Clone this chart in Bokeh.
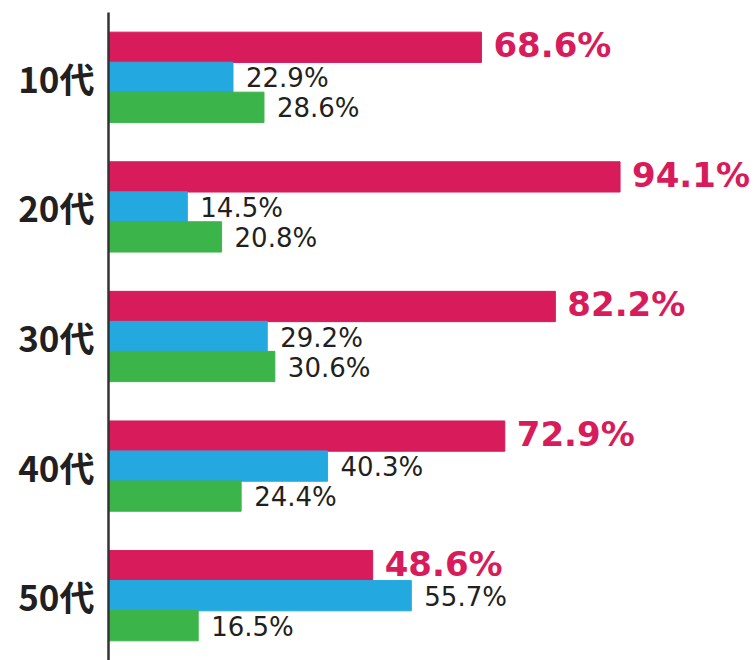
from bokeh.plotting import figure
from bokeh.models import ColumnDataSource, FactorRange, Range1d
from bokeh.transform import dodge
from bokeh.core.properties import value
from bokeh.embed import file_html
from bokeh.resources import INLINE

categories = ["10代", "20代", "30代", "40代", "50代"]
red_vals = [68.6, 94.1, 82.2, 72.9, 48.6]
blue_vals = [22.9, 14.5, 29.2, 40.3, 55.7]
green_vals = [28.6, 20.8, 30.6, 24.4, 16.5]

RED = "#d81b5a"
BLUE = "#24a8e0"
GREEN = "#3bb54a"
DARK = "#231f20"

src = ColumnDataSource(dict(
    cat=categories,
    red=red_vals, blue=blue_vals, green=green_vals,
    red_lbl=[f"{v:.1f}%" for v in red_vals],
    blue_lbl=[f"{v:.1f}%" for v in blue_vals],
    green_lbl=[f"{v:.1f}%" for v in green_vals],
))

p = figure(width=756, height=660, output_backend="svg", toolbar_location=None,
           y_range=FactorRange(*reversed(categories)),
           x_range=Range1d(0, 119.2),
           min_border_top=12, min_border_bottom=0, min_border_right=0,
           min_border_left=108)

bh = 0.2315
p.hbar(y=dodge("cat", bh, range=p.y_range), right="red", left=0, height=bh + 0.002,
       color=RED, source=src)
p.hbar(y=dodge("cat", 0, range=p.y_range), right="blue", left=0, height=bh + 0.002,
       color=BLUE, source=src)
p.hbar(y=dodge("cat", -bh, range=p.y_range), right="green", left=0, height=bh + 0.002,
       color=GREEN, source=src)

p.text(x="red", y=dodge("cat", bh, range=p.y_range), text="red_lbl", source=src,
       x_offset=12, y_offset=-2, text_baseline="middle", text_align="left",
       text_font=value("DejaVu Sans"), text_font_style="bold",
       text_font_size="34px", text_color=RED)
p.text(x="blue", y=dodge("cat", 0, range=p.y_range), text="blue_lbl", source=src,
       x_offset=13, y_offset=1, text_baseline="middle", text_align="left",
       text_font=value("DejaVu Sans"),
       text_font_size="26px", text_color=DARK)
p.text(x="green", y=dodge("cat", -bh, range=p.y_range), text="green_lbl", source=src,
       x_offset=13, y_offset=1, text_baseline="middle", text_align="left",
       text_font=value("DejaVu Sans"),
       text_font_size="26px", text_color=DARK)

p.xaxis.visible = False
p.xgrid.visible = False
p.ygrid.visible = False
p.outline_line_color = None
yax = p.yaxis[0]
yax.axis_line_color = "#333333"
yax.axis_line_width = 2.5
yax.major_tick_line_color = None
yax.minor_tick_line_color = None
yax.major_label_text_font = "Noto Sans CJK JP"
yax.major_label_text_font_style = "bold"
yax.major_label_text_font_size = "35px"
yax.major_label_text_color = DARK
yax.major_label_standoff = 8

open("out.html", "w").write(file_html(p, INLINE))
